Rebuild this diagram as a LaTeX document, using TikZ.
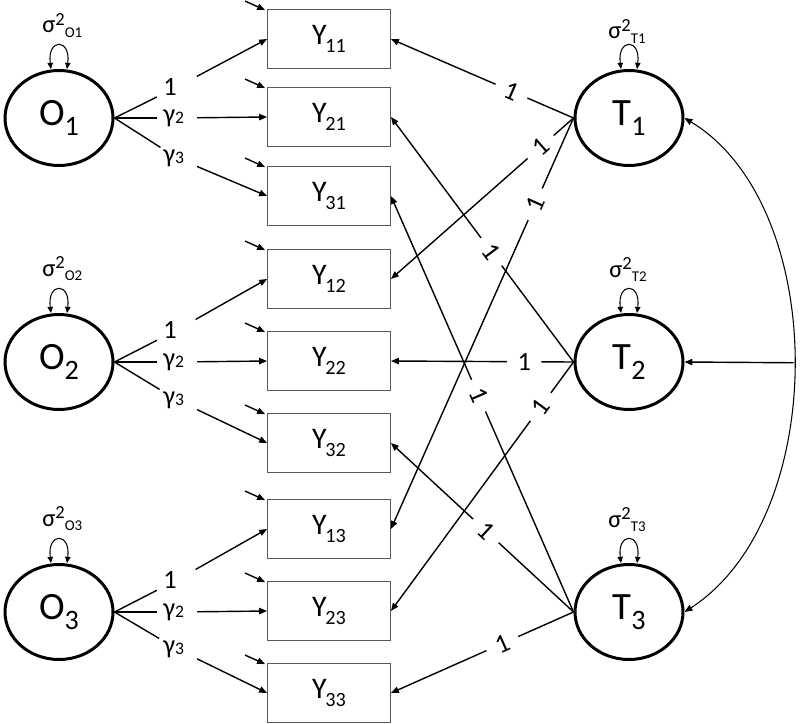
\documentclass[tikz,border=0pt]{standalone}
\usepackage{fontspec}
\setmainfont{Carlito}
\usetikzlibrary{shapes.geometric,arrows.meta,calc}

\newcommand{\ylab}[1]{Y\kern-0.8pt\raisebox{-4.8pt}{\fontsize{11.5}{11.5}\selectfont #1}}
\newcommand{\llab}[2]{#1\raisebox{-5.7pt}{\fontsize{16}{16}\selectfont #2}}
\newcommand{\vlab}[1]{{\fontsize{14}{14}\selectfont σ}\raisebox{4.5pt}{\fontsize{10.5}{10.5}\selectfont 2}\raisebox{-2.8pt}{\fontsize{8.5}{8.5}\selectfont #1}}
\newcommand{\gam}[1]{γ\raisebox{-1pt}{\fontsize{10}{10}\selectfont #1}}

\tikzset{
  latent/.style={ellipse,draw,line width=1.7pt,minimum width=2.16cm,minimum height=1.9cm,inner sep=0pt,font=\fontsize{22}{24}\selectfont},
  manifest/.style={rectangle,draw=black!65,line width=0.5pt,minimum width=2.46cm,minimum height=1.18cm,inner sep=0pt,font=\fontsize{17}{18}\selectfont},
  coef/.style={text width=0.55cm,inner xsep=0.12cm,inner ysep=1pt,align=left,font=\fontsize{15}{16}\selectfont},
  load/.style={fill=white,sloped,inner xsep=6pt,inner ysep=1pt,font=\fontsize{15}{16}\selectfont},
  vlabel/.style={anchor=base west,inner sep=0pt},
  varloop/.style={<->,line width=0.6pt,>={Triangle[length=3.5pt,width=3pt]}}
}

\begin{document}
\begin{tikzpicture}[x=0.02cm,y=-0.02cm,>={Triangle[length=4.5pt,width=3.6pt]}]
 \useasboundingbox (0,0) rectangle (800,723);
 %
 \node[latent] (O1) at (59,118) {\llab{O}{1}};
 \node[latent] (O2) at (59,362) {\llab{O}{2}};
 \node[latent] (O3) at (59,612) {\llab{O}{3}};
 \node[latent] (T1) at (629,118) {\llab{T}{1}};
 \node[latent] (T2) at (629,362) {\llab{T}{2}};
 \node[latent] (T3) at (629,612) {\llab{T}{3}};
 %
 \node[manifest] (Y11) at (329,39) {\ylab{11}};
 \node[manifest] (Y21) at (329,117) {\ylab{21}};
 \node[manifest] (Y31) at (329,196) {\ylab{31}};
 \node[manifest] (Y12) at (329,279) {\ylab{12}};
 \node[manifest] (Y22) at (329,361) {\ylab{22}};
 \node[manifest] (Y32) at (329,443) {\ylab{32}};
 \node[manifest] (Y13) at (329,529) {\ylab{13}};
 \node[manifest] (Y23) at (329,611) {\ylab{23}};
 \node[manifest] (Y33) at (329,693) {\ylab{33}};
 %
 \node[vlabel] (vO1) at (42,33) {\vlab{O1}};
 \node[vlabel] (vO2) at (42,276) {\vlab{O2}};
 \node[vlabel] (vO3) at (42,526) {\vlab{O3}};
 \node[vlabel] (vT1) at (608,39) {\vlab{T1}};
 \node[vlabel] (vT2) at (609,277) {\vlab{T2}};
 \node[vlabel] (vT3) at (608,527) {\vlab{T3}};
 %
 \draw[varloop] ($(O1.north)+(-8,0)$) .. controls +(-4,-31) and +(4,-31) .. ($(O1.north)+(8,0)$);
 \draw[varloop] ($(O2.north)+(-8,0)$) .. controls +(-4,-31) and +(4,-31) .. ($(O2.north)+(8,0)$);
 \draw[varloop] ($(O3.north)+(-8,0)$) .. controls +(-4,-31) and +(4,-31) .. ($(O3.north)+(8,0)$);
 \draw[varloop] ($(T1.north)+(-8,0)$) .. controls +(-4,-31) and +(4,-31) .. ($(T1.north)+(8,0)$);
 \draw[varloop] ($(T2.north)+(-8,0)$) .. controls +(-4,-31) and +(4,-31) .. ($(T2.north)+(8,0)$);
 \draw[varloop] ($(T3.north)+(-8,0)$) .. controls +(-4,-31) and +(4,-31) .. ($(T3.north)+(8,0)$);
 %
 \draw[->,thick] ($(Y11.north west)+(-22,-8)$) -- ($(Y11.north west)+(-2,1)$);
 \draw[->,thick] ($(Y21.north west)+(-22,-8)$) -- ($(Y21.north west)+(-2,1)$);
 \draw[->,thick] ($(Y31.north west)+(-22,-8)$) -- ($(Y31.north west)+(-2,1)$);
 \draw[->,thick] ($(Y12.north west)+(-22,-8)$) -- ($(Y12.north west)+(-2,1)$);
 \draw[->,thick] ($(Y22.north west)+(-22,-8)$) -- ($(Y22.north west)+(-2,1)$);
 \draw[->,thick] ($(Y32.north west)+(-22,-8)$) -- ($(Y32.north west)+(-2,1)$);
 \draw[->,thick] ($(Y13.north west)+(-22,-8)$) -- ($(Y13.north west)+(-2,1)$);
 \draw[->,thick] ($(Y23.north west)+(-22,-8)$) -- ($(Y23.north west)+(-2,1)$);
 \draw[->,thick] ($(Y33.north west)+(-22,-8)$) -- ($(Y33.north west)+(-2,1)$);
 %
 \node[coef] (a11) at (177,87) {1};
 \node[coef] (a21) at (177,118) {\gam{2}};
 \node[coef] (a31) at (177,158) {\gam{3}};
 \node[coef] (a12) at (177,330) {1};
 \node[coef] (a22) at (177,362) {\gam{2}};
 \node[coef] (a32) at (177,400) {\gam{3}};
 \node[coef] (a13) at (177,580) {1};
 \node[coef] (a23) at (177,612) {\gam{2}};
 \node[coef] (a33) at (177,649) {\gam{3}};
 %
 \draw[thick] (O1.east) -- (a11); \draw[->,thick] (a11) -- (Y11.west);
 \draw[thick] (O1.east) -- (a21); \draw[->,thick] (a21) -- (Y21.west);
 \draw[thick] (O1.east) -- (a31); \draw[->,thick] (a31) -- (Y31.west);
 \draw[thick] (O2.east) -- (a12); \draw[->,thick] (a12) -- (Y12.west);
 \draw[thick] (O2.east) -- (a22); \draw[->,thick] (a22) -- (Y22.west);
 \draw[thick] (O2.east) -- (a32); \draw[->,thick] (a32) -- (Y32.west);
 \draw[thick] (O3.east) -- (a13); \draw[->,thick] (a13) -- (Y13.west);
 \draw[thick] (O3.east) -- (a23); \draw[->,thick] (a23) -- (Y23.west);
 \draw[thick] (O3.east) -- (a33); \draw[->,thick] (a33) -- (Y33.west);
 %
 \draw[->,thick] (T1.west) -- node[load,pos=.34] {1} (Y11.east);
 \draw[->,thick] (T1.west) -- node[load,pos=.18] {1} (Y12.east);
 \draw[->,thick] (T1.west) -- node[load,pos=.21] {1} (Y13.east);
 \draw[->,thick] (T2.west) -- node[load,pos=.45] {1} (Y21.east);
 \draw[->,thick] (T2.west) -- node[load,pos=.27] {1} (Y22.east);
 \draw[->,thick] (T2.west) -- node[load,pos=.18] {1} (Y23.east);
 \draw[->,thick] (T3.west) -- node[load,pos=.52] {1} (Y31.east);
 \draw[->,thick] (T3.west) -- node[load,pos=.48] {1} (Y32.east);
 \draw[->,thick] (T3.west) -- node[load,pos=.39] {1} (Y33.east);
 %
 \draw[<->,line width=0.6pt] (T1.east) .. controls (830,206) and (830,518) .. (T3.east) coordinate[pos=.5] (m);
 \draw[->,thick] (m) -- (T2.east);
\end{tikzpicture}
\end{document}
